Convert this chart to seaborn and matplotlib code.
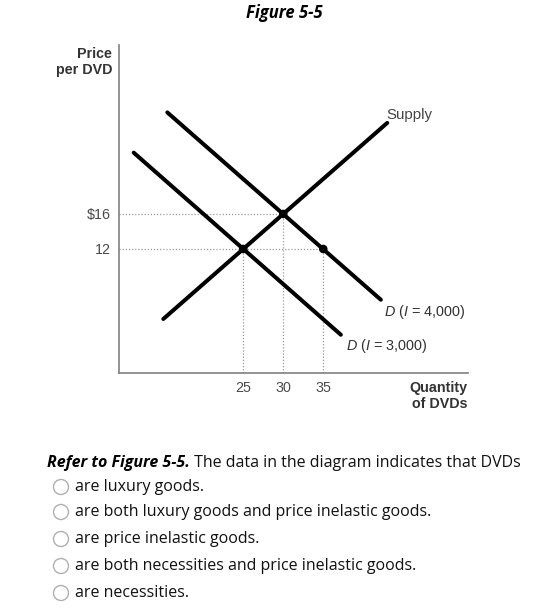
import matplotlib
matplotlib.use("Agg")
import matplotlib.pyplot as plt
from matplotlib.patches import Ellipse
import seaborn as sns
import pandas as pd

# ---- data ----
supply_q = [15.0, 43.0]
supply_p = [4.0, 26.4]
d3000_q = [11.3, 37.2]
d3000_p = [23.0, 2.2]
d4000_q = [15.5, 42.2]
d4000_p = [27.6, 6.2]

point_q = [25, 30, 35]
point_p = [12, 16, 12]

x_ticks = [25, 30, 35]
x_tick_labels = ["25", "30", "35"]
y_ticks = [12, 16]
y_tick_labels = ["12", "$16"]

title = "Figure 5-5"
question_bold = "Refer to Figure 5-5."
question_rest = " The data in the diagram indicates that DVDs"
options = [
    "are luxury goods.",
    "are both luxury goods and price inelastic goods.",
    "are price inelastic goods.",
    "are both necessities and price inelastic goods.",
    "are necessities.",
]

# ---- style ----
sns.set_theme(style="white")
plt.rcParams["font.family"] = ["Liberation Sans", "DejaVu Sans"]
plt.rcParams["mathtext.fontset"] = "custom"
plt.rcParams["mathtext.it"] = "Liberation Sans:italic"
plt.rcParams["mathtext.rm"] = "Liberation Sans"

W, H = 560, 611
fig = plt.figure(figsize=(W / 100, H / 100), dpi=100)
ax = fig.add_axes([119 / W, 1 - 373 / H, (468 - 119) / W, (373 - 45) / H])

curves = pd.DataFrame({
    "q": supply_q + d3000_q + d4000_q,
    "p": supply_p + d3000_p + d4000_p,
    "curve": ["S"] * 2 + ["D3"] * 2 + ["D4"] * 2,
})
sns.lineplot(data=curves, x="q", y="p", units="curve", estimator=None,
             color="black", linewidth=2.9, sort=False, ax=ax,
             solid_capstyle="round")

# dotted guide lines
xmin, ymin = 9.46, -2.17
for q, p in zip(point_q, point_p):
    ax.plot([q, q], [ymin, p], color="#9a9a9a", linestyle=(0, (1, 1.5)), linewidth=0.9, zorder=1)
ax.plot([xmin, 30], [16, 16], color="#9a9a9a", linestyle=(0, (1, 1.5)), linewidth=0.9, zorder=1)
ax.plot([xmin, 35], [12, 12], color="#9a9a9a", linestyle=(0, (1, 1.5)), linewidth=0.9, zorder=1)

pts = pd.DataFrame({"q": point_q, "p": point_p})
sns.scatterplot(data=pts, x="q", y="p", color="black", s=38, edgecolor="none", ax=ax, zorder=5)

ax.set_xlim(xmin, 53.1)
ax.set_ylim(ymin, 35.3)
ax.set_xticks(x_ticks)
ax.set_xticklabels(x_tick_labels)
ax.set_yticks(y_ticks)
ax.set_yticklabels(y_tick_labels)
ax.set_xlabel("")
ax.set_ylabel("")
ax.tick_params(axis="both", length=0, labelsize=10.3, labelcolor="#4a4a4a", pad=6)
for s in ["top", "right"]:
    ax.spines[s].set_visible(False)
for s in ["left", "bottom"]:
    ax.spines[s].set_color("#808080")
    ax.spines[s].set_linewidth(1.2)

# annotations (figure pixel positions)
def fx(px):
    return px / W

def fy(py):
    return 1 - py / H

fig.text(fx(112), fy(62), "Price\nper DVD", ha="right", va="center", fontsize=10.3,
         fontweight="bold", color="#333333", linespacing=1.2)
fig.text(fx(467), fy(396), "Quantity\nof DVDs", ha="right", va="center", fontsize=10.3,
         fontweight="bold", color="#333333", linespacing=1.2)
fig.text(fx(409), fy(115), "Supply", ha="center", va="center", fontsize=10.8, color="#444444")
fig.text(fx(384), fy(312), r"$D$ ($I$ = 4,000)", ha="left", va="center", fontsize=10.4, color="#333333")
fig.text(fx(346), fy(346), r"$D$ ($I$ = 3,000)", ha="left", va="center", fontsize=10.4, color="#333333")

fig.text(fx(284), fy(13), title, ha="center", va="center", fontsize=12,
         fontweight="bold", fontstyle="italic", family=["Open Sans", "DejaVu Sans"], color="black")

t1 = fig.text(fx(47), fy(463), question_bold, ha="left", va="center", fontsize=11.5,
              fontweight="bold", fontstyle="italic", family=["Open Sans", "DejaVu Sans"], color="black")
fig.canvas.draw()
bb = t1.get_window_extent()
fig.text(bb.x1 / W, fy(463), question_rest, ha="left", va="center", fontsize=11.5,
         family=["Open Sans", "DejaVu Sans"], color="#111111")

row_y = [487, 512, 539, 566, 593]
for y, opt in zip(row_y, options):
    fig.add_artist(Ellipse((fx(61), fy(y)), 15 / W, 15 / H, facecolor="white",
                           edgecolor="#b0b0b0", linewidth=1.0, transform=fig.transFigure))
    fig.text(fx(75), fy(y), opt, ha="left", va="center", fontsize=11.5,
             family=["Open Sans", "DejaVu Sans"], color="#111111")

fig.savefig("out.png", dpi=100)
